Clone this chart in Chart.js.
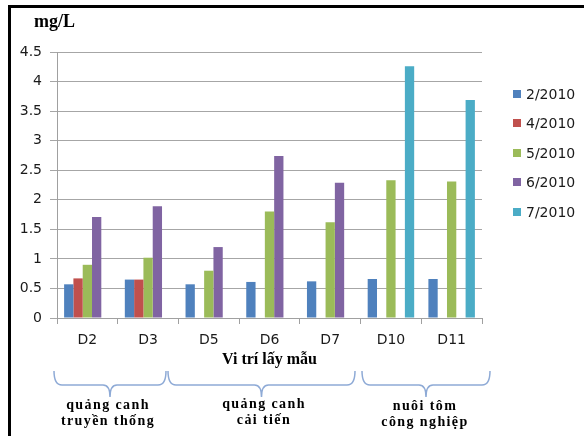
<!DOCTYPE html>
<html>
<head>
<meta charset="utf-8">
<script src="https://cdn.jsdelivr.net/npm/chart.js@4.4.1/dist/chart.umd.min.js"></script>
<style>
  html, body { margin: 0; padding: 0; background: #fff; }
  #wrap { position: relative; width: 584px; height: 436px; overflow: hidden; }
  #frame { position: absolute; left: 8px; top: 5px; width: 600px; height: 460px;
           border-left: 3px solid #000; border-top: 3px solid #000; }
  #c { position: absolute; left: 0; top: 0; }
  .unit { position: absolute; left: 34px; top: 11px; font: bold 18px "Liberation Serif", serif; color: #000; }
  #legend { position: absolute; left: 513px; top: 79px; font: 14px "DejaVu Sans", sans-serif; color: #1a1a1a; }
  #legend div { display: flex; align-items: center; height: 29.5px; line-height: 16px; }
  #legend span.sw { display: inline-block; width: 8px; height: 8px; margin-right: 5px; }
  .grp { position: absolute; width: 160px; text-align: center; font: bold 14px "Liberation Serif", serif;
         letter-spacing: 1.4px; line-height: 16px; color: #000; }
</style>
</head>
<body>
<div id="wrap">
  <div id="frame"></div>
  <canvas id="c" width="584" height="436"></canvas>
  <div class="unit">mg/L</div>
  <div id="legend"></div>
  <div class="grp" style="left:28px; top:397px;">quảng canh<br>truyền thống</div>
  <div class="grp" style="left:184px; top:396px;">quảng canh<br>cải tiến</div>
  <div class="grp" style="left:345px; top:398px;">nuôi tôm<br>công nghiệp</div>
</div>
<script>
  // --- data ---
  const sites = ['D2', 'D3', 'D5', 'D6', 'D7', 'D10', 'D11'];
  const months = ['2/2010', '4/2010', '5/2010', '6/2010', '7/2010'];
  const m2 = [0.57, 0.65, 0.57, 0.61, 0.62, 0.66, 0.66];
  const m4 = [0.67, 0.65, null, null, null, null, null];
  const m5 = [0.90, 1.02, 0.80, 1.80, 1.62, 2.33, 2.31];
  const m6 = [1.71, 1.89, 1.20, 2.74, 2.29, null, null];
  const m7 = [null, null, null, null, null, 4.26, 3.69];
  const yTicks = [0, 0.5, 1, 1.5, 2, 2.5, 3, 3.5, 4, 4.5];

  const colors = ['#4f81bd', '#c0504d', '#9bbb59', '#8064a2', '#4bacc6'];
  const series = [m2, m4, m5, m6, m7];

  // legend
  document.getElementById('legend').innerHTML = months.map((m, i) =>
    `<div><span class="sw" style="background:${colors[i]}"></span>${m}</div>`).join('');

  // curly braces under the axis
  const braces = [[54, 166], [168, 355], [362, 490]];
  const bracePlugin = {
    id: 'braces',
    afterDraw(chart) {
      const ctx = chart.ctx;
      const top = 371, mid = 385, tip = 397;
      ctx.save();
      ctx.strokeStyle = '#8eaad6';
      ctx.lineWidth = 1.5;
      braces.forEach(([a, b]) => {
        const c = (a + b) / 2;
        ctx.beginPath();
        ctx.moveTo(a, top);
        ctx.quadraticCurveTo(a, mid, a + 8, mid);
        ctx.lineTo(c - 7, mid);
        ctx.quadraticCurveTo(c, mid, c, tip);
        ctx.quadraticCurveTo(c, mid, c + 7, mid);
        ctx.lineTo(b - 8, mid);
        ctx.quadraticCurveTo(b, mid, b, top);
        ctx.stroke();
      });
      ctx.restore();
    }
  };

  new Chart(document.getElementById('c'), {
    type: 'bar',
    data: {
      labels: sites,
      datasets: series.map((d, i) => ({
        label: months[i],
        data: d,
        backgroundColor: colors[i],
        borderWidth: 0,
        barPercentage: 1,
        categoryPercentage: 0.766
      }))
    },
    options: {
      responsive: false,
      animation: false,
      devicePixelRatio: 1,
      layout: { padding: { left: 0, top: 52, right: 102, bottom: 67 } },
      plugins: { legend: { display: false }, tooltip: { enabled: false } },
      scales: {
        x: {
          grid: { display: true, drawOnChartArea: false, color: '#a0a0a0', tickLength: 6 },
          border: { color: '#a0a0a0' },
          ticks: { color: '#1a1a1a', font: { family: 'DejaVu Sans', size: 14 }, padding: 8 },
          title: { display: true, text: 'Vi trí lấy mẫu', color: '#000',
                   font: { family: 'Liberation Serif', size: 16, weight: 'bold' }, padding: 0 },
          afterFit(s) { s.height = 51; }
        },
        y: {
          min: 0, max: 4.5,
          afterBuildTicks(s) { s.ticks = yTicks.map(v => ({ value: v })); },
          grid: { color: '#a6a6a6', tickLength: 7 },
          border: { color: '#a0a0a0' },
          ticks: { color: '#1a1a1a', font: { family: 'DejaVu Sans', size: 14 }, padding: 8,
                   callback: v => String(v) },
          afterFit(s) { s.width = 57; }
        }
      }
    },
    plugins: [bracePlugin]
  });
</script>
</body>
</html>
